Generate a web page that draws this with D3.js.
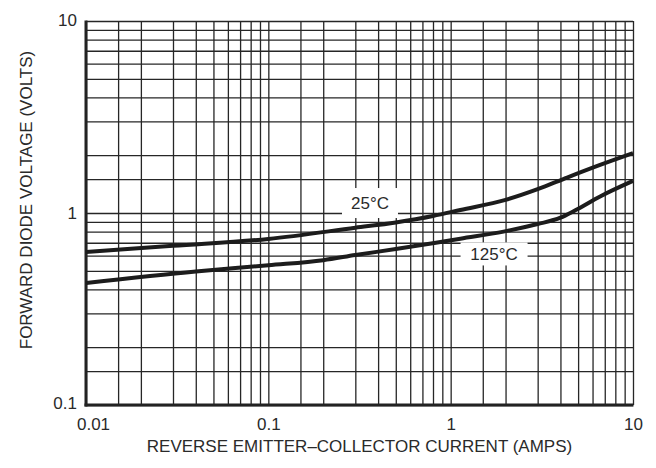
<!DOCTYPE html>
<html><head><meta charset="utf-8">
<script src="https://cdn.jsdelivr.net/npm/d3@7"></script>
<style>
html,body{margin:0;padding:0;background:#fff;}
svg text{font-family:"Liberation Sans",Arial,Helvetica,sans-serif;fill:#2a2a2a;}
</style></head>
<body><svg id="c" width="656" height="468"></svg>
<script>
// ---- data ----
const xTickValues = [0.01, 0.1, 1, 10];
const xTickLabels = ["0.01", "0.1", "1", "10"];
const yTickValues = [0.1, 1, 10];
const yTickLabels = ["0.1", "1", "10"];
const gridMultipliers = [1, 1.5, 2, 3, 4, 5, 6, 7, 8, 9];
const xDecades = [0.01, 0.1, 1];
const yDecades = [0.1, 1];

const current25 = [0.01, 0.03, 0.1, 0.3, 0.5, 0.8, 1.13, 2, 3, 4.35, 6.6, 10];
const voltage25 = [0.626, 0.675, 0.733, 0.838, 0.893, 0.965, 1.037, 1.17, 1.33, 1.53, 1.78, 2.05];
const current125 = [0.01, 0.04, 0.1, 0.2, 0.3, 0.5, 0.83, 1.13, 1.95, 3, 4, 4.8, 6.6, 10];
const voltage125 = [0.432, 0.496, 0.535, 0.568, 0.604, 0.649, 0.70, 0.735, 0.80, 0.876, 0.945, 1.03, 1.22, 1.47];

const seriesLabels = ["25°C", "125°C"];
const labelAnchors = [[0.361, 1.127], [1.73, 0.612]]; // [current, voltage] of label centre
const xTitle = "REVERSE EMITTER–COLLECTOR CURRENT (AMPS)";
const yTitle = "FORWARD DIODE VOLTAGE (VOLTS)";

// ---- layout ----
const L = 86, R = 633, T = 21, B = 405;
const svg = d3.select("#c");
const x = d3.scaleLog().domain([0.01, 10]).range([L, R]);
const y = d3.scaleLog().domain([0.1, 10]).range([B, T]);

const xGrid = xDecades.flatMap(d => gridMultipliers.map(m => d * m)).concat([10]);
const yGrid = yDecades.flatMap(d => gridMultipliers.map(m => d * m)).concat([10]);

// grid via axes
const gx = svg.append("g").attr("transform", `translate(0,${B})`)
  .call(d3.axisBottom(x).tickValues(xGrid).tickSize(-(B - T)).tickFormat(""));
const gy = svg.append("g").attr("transform", `translate(${L},0)`)
  .call(d3.axisLeft(y).tickValues(yGrid).tickSize(-(R - L)).tickFormat(""));
[gx, gy].forEach(g => {
  g.select(".domain").remove();
  g.selectAll(".tick line").attr("stroke", "#262626").attr("stroke-width", 1.3);
});

// frame: thick left & bottom
svg.append("line").attr("x1", L).attr("x2", L).attr("y1", T - 0.5).attr("y2", B + 1.5)
  .attr("stroke", "#222").attr("stroke-width", 3);
svg.append("line").attr("x1", L - 1.5).attr("x2", R + 0.5).attr("y1", B).attr("y2", B)
  .attr("stroke", "#222").attr("stroke-width", 3);

// tick labels
const xl = svg.append("g").attr("transform", `translate(0,${B + 25})`)
  .call(d3.axisBottom(x).tickValues(xTickValues).tickSize(0).tickPadding(0)
    .tickFormat((d, i) => xTickLabels[i]));
xl.select(".domain").remove();
xl.attr("font-family", null).attr("font-size", null);
xl.selectAll("text").attr("font-size", 17).attr("dy", 0).attr("fill", "#2a2a2a")
  .attr("dx", (d, i) => i === 0 ? 7 : 0);
const yl = svg.append("g").attr("transform", `translate(${L - 9},0)`)
  .call(d3.axisLeft(y).tickValues(yTickValues).tickSize(0).tickPadding(0)
    .tickFormat((d, i) => yTickLabels[i]));
yl.select(".domain").remove();
yl.attr("font-family", null).attr("font-size", null);
yl.selectAll("text").attr("font-size", 17).attr("fill", "#2a2a2a")
  .attr("dy", (d, i) => i === 0 ? "0.2em" : (i === 2 ? "0.28em" : "0.35em"));

// series labels with white boxes
const boxSizes = [[56, 30], [67, 23]];
const lg = svg.append("g");
seriesLabels.forEach((t, i) => {
  const cx = x(labelAnchors[i][0]), cy = y(labelAnchors[i][1]);
  const [w, h] = boxSizes[i];
  lg.append("rect").attr("x", cx - w / 2).attr("y", cy - h / 2).attr("width", w).attr("height", h).attr("fill", "#fff");
  lg.append("text").attr("x", cx).attr("y", cy).attr("text-anchor", "middle").attr("dy", "0.36em")
    .attr("font-size", 17).text(t);
});

// curves
const line = d3.line().x(d => x(d[0])).y(d => y(d[1])).curve(d3.curveMonotoneX);
const series = [current25.map((c, i) => [c, voltage25[i]]), current125.map((c, i) => [c, voltage125[i]])];
svg.append("g").selectAll("path").data(series).join("path")
  .attr("d", line).attr("fill", "none").attr("stroke", "#1c1c1c").attr("stroke-width", 4)
  .attr("stroke-linecap", "butt");

// titles
svg.append("text").attr("x", (L + R) / 2).attr("y", 452).attr("text-anchor", "middle")
  .attr("font-size", 17).text(xTitle);
svg.append("text").attr("transform", "translate(32,200) rotate(-90)").attr("text-anchor", "middle")
  .attr("font-size", 17).text(yTitle);
</script></body></html>
